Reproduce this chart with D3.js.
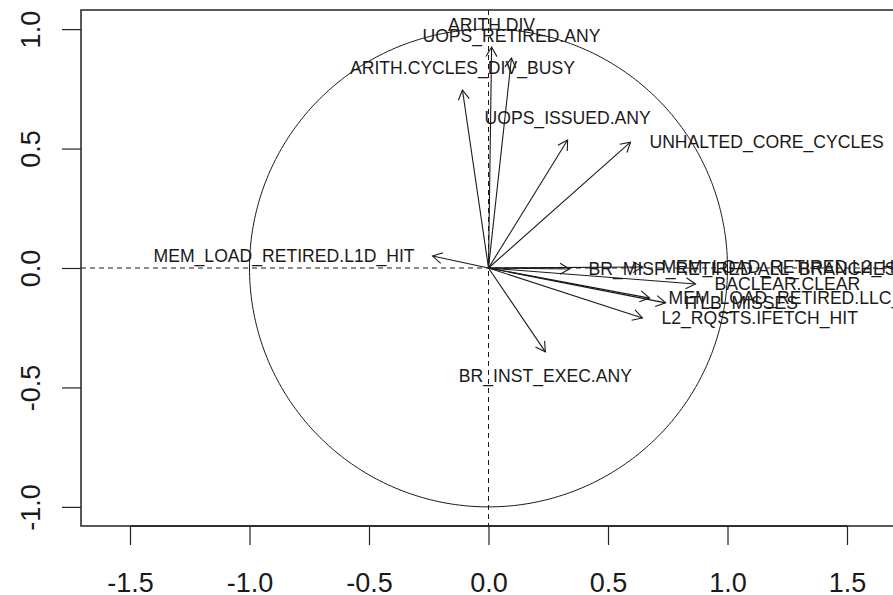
<!DOCTYPE html>
<html>
<head>
<meta charset="utf-8">
<script src="https://cdn.jsdelivr.net/npm/d3@7"></script>
<style>
  body { margin: 0; background: #fff; }
  svg { display: block; font-family: 'Liberation Sans', Arial, Helvetica, sans-serif; }
</style>
</head>
<body>
<div id="chart"></div>
<script>
// Variables (PCA correlation circle, Dim 1 / Dim 2)
const variables = [
  'ARITH.DIV', 'UOPS_RETIRED.ANY', 'ARITH.CYCLES_DIV_BUSY', 'UOPS_ISSUED.ANY',
  'UNHALTED_CORE_CYCLES', 'MEM_LOAD_RETIRED.L1D_HIT', 'BR_INST_EXEC.ANY',
  'BR_MISP_RETIRED.ALL_BRANCHES', 'MEM_LOAD_RETIRED.L2_HIT', 'BACLEAR.CLEAR',
  'MEM_LOAD_RETIRED.LLC_MISS', 'ITLB_MISSES', 'L2_RQSTS.IFETCH_HIT'
];
const dim1 = [0.013, 0.096, -0.109, 0.331, 0.594, -0.234, 0.238, 0.339, 0.644, 0.866, 0.674, 0.741, 0.644];
const dim2 = [0.925, 0.879, 0.745, 0.536, 0.527, 0.050, -0.351, -0.004, 0.004, -0.067, -0.126, -0.146, -0.209];

const xTicks = [-1.5, -1.0, -0.5, 0.0, 0.5, 1.0, 1.5];
const yTicks = [-1.0, -0.5, 0.0, 0.5, 1.0];

const W = 893, H = 595;
const plot = { left: 81, top: 10, width: 815, height: 516 };

const svg = d3.select('#chart').append('svg')
  .attr('width', W)
  .attr('height', H);

// Scales (equal aspect)
const xScale = d3.scaleLinear()
  .domain([-1.705, 1.705])
  .range([plot.left, plot.left + plot.width]);

const yScale = d3.scaleLinear()
  .domain([-1.08, 1.08])
  .range([plot.top + plot.height, plot.top]);

const ink = '#1a1a1a';

// Dashed reference lines
svg.append('line')
  .attr('x1', plot.left).attr('x2', plot.left + plot.width)
  .attr('y1', yScale(0)).attr('y2', yScale(0))
  .attr('stroke', ink).attr('stroke-dasharray', '5,4');
svg.append('line')
  .attr('x1', xScale(0)).attr('x2', xScale(0))
  .attr('y1', plot.top).attr('y2', plot.top + plot.height)
  .attr('stroke', ink).attr('stroke-dasharray', '5,4');

// Unit circle
const circle = d3.line()
  .x(d => xScale(Math.cos(d)))
  .y(d => yScale(Math.sin(d)));
svg.append('path')
  .datum(d3.range(0, 361).map(a => a * Math.PI / 180))
  .attr('fill', 'none')
  .attr('stroke', ink)
  .attr('stroke-width', 1)
  .attr('d', circle);

// Arrows
const headLen = 11, headAng = Math.PI / 6;
const g = svg.append('g').attr('stroke', ink).attr('stroke-width', 1.1).attr('fill', 'none');
variables.forEach((name, i) => {
  const x0 = xScale(0), y0 = yScale(0);
  const x1 = xScale(dim1[i]), y1 = yScale(dim2[i]);
  const a = Math.atan2(y1 - y0, x1 - x0);
  g.append('line').attr('x1', x0).attr('y1', y0).attr('x2', x1).attr('y2', y1);
  g.append('path')
    .attr('d', 'M' + (x1 - headLen * Math.cos(a - headAng)) + ',' + (y1 - headLen * Math.sin(a - headAng)) +
      'L' + x1 + ',' + y1 +
      'L' + (x1 - headLen * Math.cos(a + headAng)) + ',' + (y1 - headLen * Math.sin(a + headAng)));
});

// Labels (position by dominant direction, like R's pos)
variables.forEach((name, i) => {
  const x = dim1[i], y = dim2[i];
  const px = xScale(x), py = yScale(y);
  const t = svg.append('text')
    .attr('font-size', '17.6px')
    .attr('fill', ink)
    .text(name);
  if (Math.abs(x) > Math.abs(y)) {
    t.attr('x', x > 0 ? px + 19 : px - 18)
      .attr('y', py + 6)
      .attr('text-anchor', x > 0 ? 'start' : 'end');
  } else {
    t.attr('x', px)
      .attr('y', y > 0 ? py - 16 : py + 30)
      .attr('text-anchor', 'middle');
  }
});

// Box
svg.append('rect')
  .attr('x', plot.left).attr('y', plot.top)
  .attr('width', plot.width).attr('height', plot.height)
  .attr('fill', 'none').attr('stroke', '#222').attr('stroke-width', 1.5);

// Create X-axis
const xAxis = d3.axisBottom(xScale)
  .tickValues(xTicks)
  .tickSize(19)
  .tickPadding(10)
  .tickFormat(d => d.toFixed(1));
const gx = svg.append('g')
  .attr('transform', 'translate(0,' + (plot.top + plot.height) + ')')
  .call(xAxis);
gx.select('.domain').remove();
gx.append('line')
  .attr('x1', xScale(-1.5)).attr('x2', xScale(1.5))
  .attr('stroke', '#222').attr('stroke-width', 1.5);
gx.selectAll('.tick line').attr('stroke', '#222').attr('stroke-width', 1.2);
gx.selectAll('text')
  .attr('font-size', '27px')
  .attr('font-family', "'Liberation Sans', Arial, sans-serif")
  .attr('fill', ink)
  .attr('dy', null)
  .attr('y', 66);

// Create Y-axis
const yAxis = d3.axisLeft(yScale)
  .tickValues(yTicks)
  .tickSize(19)
  .tickFormat(d => d.toFixed(1));
const gy = svg.append('g')
  .attr('transform', 'translate(' + plot.left + ',0)')
  .call(yAxis);
gy.select('.domain').remove();
gy.selectAll('.tick line').attr('stroke', '#222').attr('stroke-width', 1.2);
gy.selectAll('text')
  .attr('font-size', '27px')
  .attr('font-family', "'Liberation Sans', Arial, sans-serif")
  .attr('fill', ink)
  .attr('x', null).attr('dy', null)
  .attr('text-anchor', 'middle')
  .attr('transform', 'translate(-41,0) rotate(-90)');
</script>
</body>
</html>
